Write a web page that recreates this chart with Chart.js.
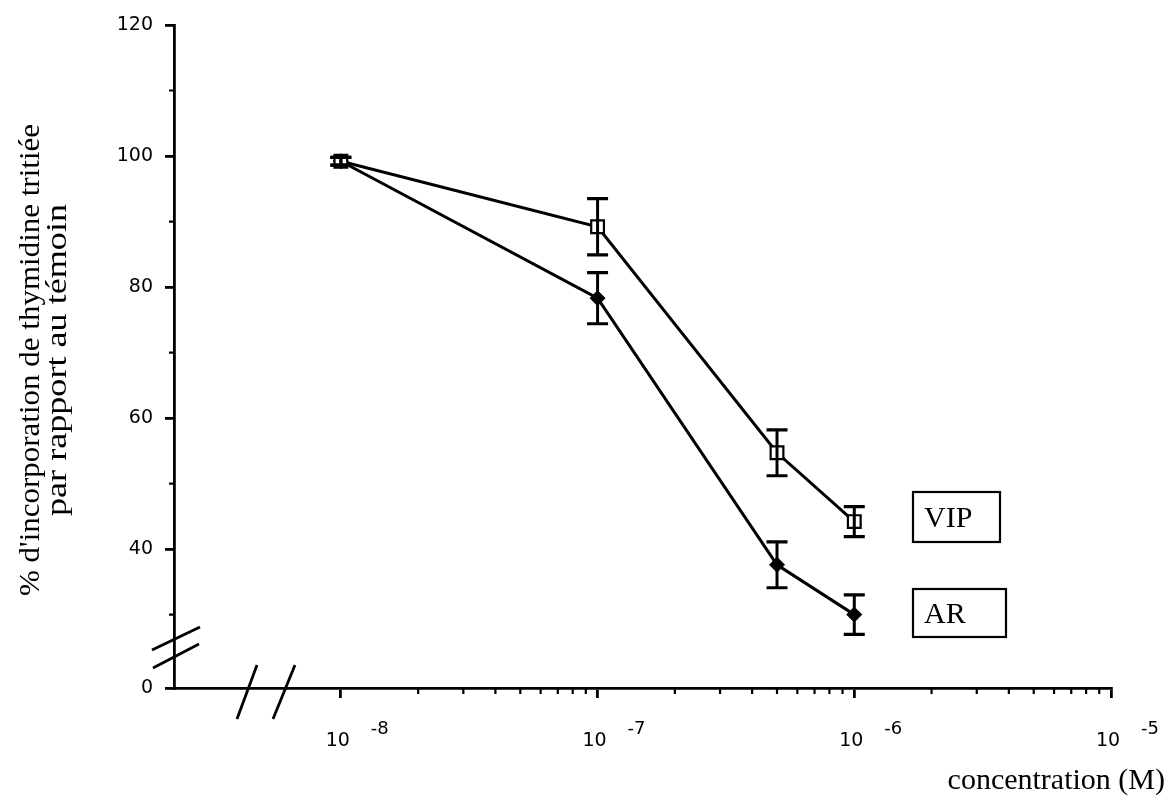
<!DOCTYPE html>
<html><head><meta charset="utf-8">
<script src="https://cdn.jsdelivr.net/npm/chart.js@4/dist/chart.umd.min.js"></script>
<style>html,body{margin:0;padding:0;background:#fff}#wrap{width:1170px;height:795px}</style>
</head><body><div id="wrap"><canvas id="c" width="1170" height="795"></canvas></div>
<script>
// ---- data ----
const concentrations = [1e-8, 1e-7, 5e-7, 1e-6];
const vipMean = [99.2, 89.2, 54.7, 44.2];
const vipErr  = [0.6, 4.3, 3.5, 2.3];
const arMean  = [99.2, 78.3, 37.6, 30.0];
const arErr   = [0.6, 3.9, 3.5, 3.0];
const seriesNames = ['VIP', 'AR'];
const xMajorTicks = [1e-8, 1e-7, 1e-6, 1e-5];
const xTickBase = '10';
const xTickExponents = ['-8', '-7', '-6', '-5'];
const yTickValues = [18.8, 40, 60, 80, 100, 120];
const yTickLabels = ['0', '40', '60', '80', '100', '120'];
const yMinorTicks = [30, 50, 70, 90, 110];
const xTitle = 'concentration (M)';
const yTitleLines = ["% d'incorporation de thymidine tritiée", 'par rapport au témoin'];
const xMin = Math.pow(10, -8.65);
const xMax = 1e-5;
const yMin = 18.8;
const yMax = 120;

const SERIF = '"Liberation Serif", "Times New Roman", serif';
const SANS = '"DejaVu Sans", sans-serif';

function xMinorTicks() {
  const out = [];
  for (let d = -8; d <= -6; d++) for (let m = 2; m <= 9; m++) out.push(m * Math.pow(10, d));
  return out;
}

const errorBars = {
  id: 'errorBars',
  afterDatasetsDraw(chart) {
    const ctx = chart.ctx, ys = chart.scales.y;
    ctx.save();
    ctx.strokeStyle = '#000';
    chart.data.datasets.forEach((ds, di) => {
      const meta = chart.getDatasetMeta(di);
      ds.data.forEach((pt, i) => {
        const el = meta.data[i];
        const x = el.x;
        const yt = ys.getPixelForValue(pt.y + pt.e);
        const yb = ys.getPixelForValue(pt.y - pt.e);
        ctx.lineWidth = 3;
        ctx.beginPath(); ctx.moveTo(x, yt); ctx.lineTo(x, yb); ctx.stroke();
        ctx.lineWidth = 3.2;
        ctx.beginPath();
        ctx.moveTo(x - 10.5, yt); ctx.lineTo(x + 10.5, yt);
        ctx.moveTo(x - 10.5, yb); ctx.lineTo(x + 10.5, yb);
        ctx.stroke();
      });
    });
    ctx.restore();
  }
};

function fitText(ctx, text, targetWidth) {
  const w = ctx.measureText(text).width;
  ctx.save();
  ctx.scale(targetWidth / w, 1);
  ctx.fillText(text, 0, 0);
  ctx.restore();
}

const overlay = {
  id: 'overlay',
  afterDraw(chart) {
    const ctx = chart.ctx, xs = chart.scales.x, ys = chart.scales.y;
    const area = chart.chartArea;
    ctx.save();
    ctx.strokeStyle = '#000';
    ctx.fillStyle = '#000';
    // minor ticks
    ctx.lineWidth = 2.2;
    ctx.beginPath();
    xMinorTicks().forEach(v => {
      const px = xs.getPixelForValue(v);
      ctx.moveTo(px, area.bottom); ctx.lineTo(px, area.bottom + 6);
    });
    yMinorTicks.forEach(v => {
      const py = ys.getPixelForValue(v);
      ctx.moveTo(area.left, py); ctx.lineTo(area.left - 5, py);
    });
    ctx.stroke();
    // axis break marks
    ctx.lineWidth = 2.8;
    ctx.beginPath();
    ctx.moveTo(152, 650); ctx.lineTo(200, 627);
    ctx.moveTo(153, 668); ctx.lineTo(199, 644);
    ctx.moveTo(237, 719); ctx.lineTo(257, 665);
    ctx.moveTo(273, 719); ctx.lineTo(295, 665);
    ctx.stroke();
    // x tick labels with superscript exponents
    ctx.textBaseline = 'middle';
    xMajorTicks.forEach((v, i) => {
      const px = xs.getPixelForValue(v);
      ctx.font = '19px ' + SANS;
      ctx.textAlign = 'center';
      ctx.fillText(xTickBase, px - 3, 741);
      ctx.font = '18px ' + SANS;
      ctx.textAlign = 'left';
      ctx.fillText(xTickExponents[i], px + 30, 729);
    });
    // x title
    ctx.font = '30px ' + SERIF;
    ctx.textAlign = 'right';
    ctx.fillText(xTitle, 1165, 781);
    // y title (rotated)
    ctx.save();
    ctx.translate(44, 360);
    ctx.rotate(-Math.PI / 2);
    ctx.textAlign = 'center';
    ctx.font = '30px ' + SERIF;
    ctx.save(); ctx.translate(0, -13); fitText(ctx, yTitleLines[0], 472); ctx.restore();
    ctx.save(); ctx.translate(0, 14); fitText(ctx, yTitleLines[1], 312); ctx.restore();
    ctx.restore();
    // series label boxes
    const boxes = [
      {name: seriesNames[0], x: 913, y: 492, w: 87, h: 50},
      {name: seriesNames[1], x: 913, y: 589, w: 93, h: 48}
    ];
    ctx.lineWidth = 2.2;
    ctx.font = '30px ' + SERIF;
    ctx.textAlign = 'left';
    ctx.textBaseline = 'middle';
    boxes.forEach(b => {
      ctx.strokeRect(b.x, b.y, b.w, b.h);
      ctx.fillText(b.name, b.x + 11, b.y + b.h / 2 + 2);
    });
    ctx.restore();
  }
};

const ctx = document.getElementById('c').getContext('2d');
new Chart(ctx, {
  type: 'line',
  data: {
    datasets: [
      {
        label: seriesNames[0],
        data: concentrations.map((x, i) => ({x: x, y: vipMean[i], e: vipErr[i]})),
        borderColor: '#000', borderWidth: 3, tension: 0, fill: false,
        pointStyle: 'rect', pointRadius: 9, pointBackgroundColor: '#fff',
        pointBorderColor: '#000', pointBorderWidth: 2.2
      },
      {
        label: seriesNames[1],
        data: concentrations.map((x, i) => ({x: x, y: arMean[i], e: arErr[i]})),
        borderColor: '#000', borderWidth: 3, tension: 0, fill: false,
        pointStyle: 'rectRot', pointRadius: 7.5, pointBackgroundColor: '#000',
        pointBorderColor: '#000', pointBorderWidth: 1
      }
    ]
  },
  options: {
    responsive: false, animation: false, devicePixelRatio: 1,
    layout: {padding: {top: 25, right: 59, left: 0, bottom: 0}},
    plugins: {legend: {display: false}, tooltip: {enabled: false}},
    scales: {
      x: {
        type: 'logarithmic', min: xMin, max: xMax,
        afterBuildTicks: s => { s.ticks = xMajorTicks.map(v => ({value: v})); },
        afterFit: s => { s.height = 107; },
        ticks: {display: false},
        grid: {display: true, drawOnChartArea: false, drawTicks: true, tickLength: 10, color: '#000', lineWidth: 2.8},
        border: {display: true, color: '#000', width: 2.8}
      },
      y: {
        type: 'linear', min: yMin, max: yMax,
        afterBuildTicks: s => { s.ticks = yTickValues.map(v => ({value: v})); },
        afterFit: s => { s.width = 174; },
        ticks: {callback: (v, i) => yTickLabels[i], color: '#000', font: {family: '"DejaVu Sans"', size: 19}, padding: 12},
        grid: {display: true, drawOnChartArea: false, drawTicks: true, tickLength: 9, color: '#000', lineWidth: 2.8},
        border: {display: true, color: '#000', width: 2.8}
      }
    }
  },
  plugins: [errorBars, overlay]
});
</script></body></html>
